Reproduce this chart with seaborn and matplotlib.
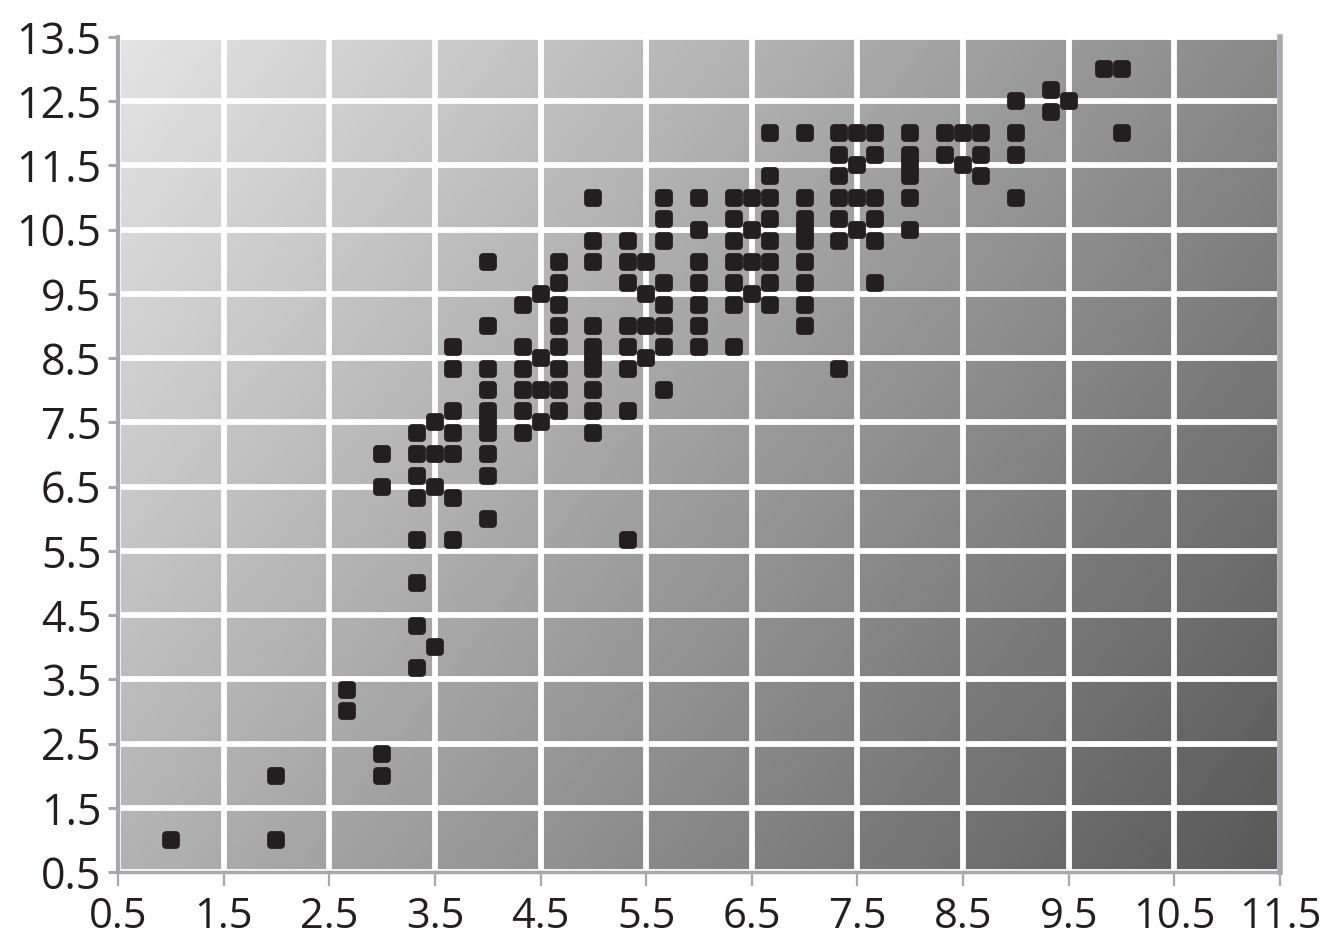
import numpy as np
import pandas as pd
import seaborn as sns
import matplotlib.pyplot as plt

# points, grouped by x column
x = ([1] +
     [2, 2] +
     [2.67, 2.67] +
     [3] * 4 +
     [3.33] * 8 +
     [3.5] * 4 +
     [3.67] * 7 +
     [4] * 10 +
     [4.33] * 6 +
     [4.5] * 4 +
     [4.67] * 8 +
     [5] * 10 +
     [5.33] * 8 +
     [5.5] * 4 +
     [5.67] * 8 +
     [6] * 7 +
     [6.33] * 7 +
     [6.5] * 4 +
     [6.67] * 8 +
     [7] * 9 +
     [7.33] * 7 +
     [7.5] * 4 +
     [7.67] * 6 +
     [8] * 6 +
     [8.33] * 2 +
     [8.5] * 2 +
     [8.67] * 3 +
     [9] * 4 +
     [9.33] * 2 +
     [9.5] +
     [9.83] +
     [10] * 2)

y = ([1] +
     [1, 2] +
     [3, 3.33] +
     [2, 2.33, 6.5, 7] +
     [3.67, 4.33, 5, 5.67, 6.33, 6.67, 7, 7.33] +
     [4, 6.5, 7, 7.5] +
     [5.67, 6.33, 7, 7.33, 7.67, 8.33, 8.67] +
     [6, 6.67, 7, 7.33, 7.5, 7.67, 8, 8.33, 9, 10] +
     [7.33, 7.67, 8, 8.33, 8.67, 9.33] +
     [7.5, 8, 8.5, 9.5] +
     [7.67, 8, 8.33, 8.67, 9, 9.33, 9.67, 10] +
     [7.33, 7.67, 8, 8.33, 8.5, 8.67, 9, 10, 10.33, 11] +
     [5.67, 7.67, 8.33, 8.67, 9, 9.67, 10, 10.33] +
     [8.5, 9, 9.5, 10] +
     [8, 8.67, 9, 9.33, 9.67, 10.33, 10.67, 11] +
     [8.67, 9, 9.33, 9.67, 10, 10.5, 11] +
     [8.67, 9.33, 9.67, 10, 10.33, 10.67, 11] +
     [9.5, 10, 10.5, 11] +
     [9.33, 9.67, 10, 10.33, 10.67, 11, 11.33, 12] +
     [9, 9.33, 9.67, 10, 10.33, 10.5, 10.67, 11, 12] +
     [8.33, 10.33, 10.67, 11, 11.33, 11.67, 12] +
     [10.5, 11, 11.5, 12] +
     [9.67, 10.33, 10.67, 11, 11.67, 12] +
     [10.5, 11, 11.33, 11.5, 11.67, 12] +
     [11.67, 12] +
     [11.5, 12] +
     [11.33, 11.67, 12] +
     [11, 11.67, 12, 12.5] +
     [12.33, 12.67] +
     [12.5] +
     [13] +
     [12, 13])

x_ticks = [0.5, 1.5, 2.5, 3.5, 4.5, 5.5, 6.5, 7.5, 8.5, 9.5, 10.5, 11.5]
y_ticks = [0.5, 1.5, 2.5, 3.5, 4.5, 5.5, 6.5, 7.5, 8.5, 9.5, 10.5, 11.5, 12.5, 13.5]

df = pd.DataFrame({'x': x, 'y': y})

sns.set_style("white")
plt.rcParams['font.family'] = ['Open Sans', 'DejaVu Sans']

fig = plt.figure(figsize=(13.27, 9.41), dpi=100)
ax = fig.add_axes([118 / 1327, 1 - 872 / 941, (1280 - 118) / 1327, (872 - 37) / 941])

# diagonal grey gradient background
xlo, xhi = x_ticks[0], x_ticks[-1]
ylo, yhi = y_ticks[0], y_ticks[-1]
u = np.linspace(0, 1, 300)[None, :]
v = np.linspace(0, 1, 300)[:, None]
tl, tr, bl, br = 228, 137, 178, 88
grad = (tl * (1 - u) * (1 - v) + tr * u * (1 - v) + bl * (1 - u) * v + br * u * v) / 255
ax.imshow(grad, cmap='gray', vmin=0, vmax=1, extent=[xlo, xhi, ylo, yhi],
          aspect='auto', origin='upper', zorder=-1, interpolation='bilinear')

# rounded squares: square marker + thick round-joined edge
sns.scatterplot(data=df, x='x', y='y', marker='s', s=50, color='#231f20',
                edgecolor='#231f20', linewidth=5.6, ax=ax, zorder=3)

ax.set_xlim(xlo, xhi)
ax.set_ylim(ylo, yhi)
ax.set_xticks(x_ticks)
ax.set_yticks(y_ticks)
ax.set_xticklabels([f"{t:g}" for t in x_ticks], fontsize=30, color='#231f20')
ax.set_yticklabels([f"{t:g}" for t in y_ticks], fontsize=31, color='#231f20')

ax.set_axisbelow(True)
ax.grid(True, color='white', linewidth=4.2)
ax.set_xlabel('')
ax.set_ylabel('')

grey = '#a7a9ac'
ax.spines['top'].set_visible(False)
ax.spines['left'].set_color(grey)
ax.spines['left'].set_linewidth(3)
ax.spines['bottom'].set_color(grey)
ax.spines['bottom'].set_linewidth(2.5)
ax.spines['right'].set_color(grey)
ax.spines['right'].set_linewidth(4)
ax.tick_params(axis='y', direction='out', length=7, width=2.2, color=grey, pad=5, left=True)
ax.tick_params(axis='x', direction='out', length=10, width=1.6, color=grey, pad=7, bottom=True)

plt.savefig('out.png', dpi=100)
